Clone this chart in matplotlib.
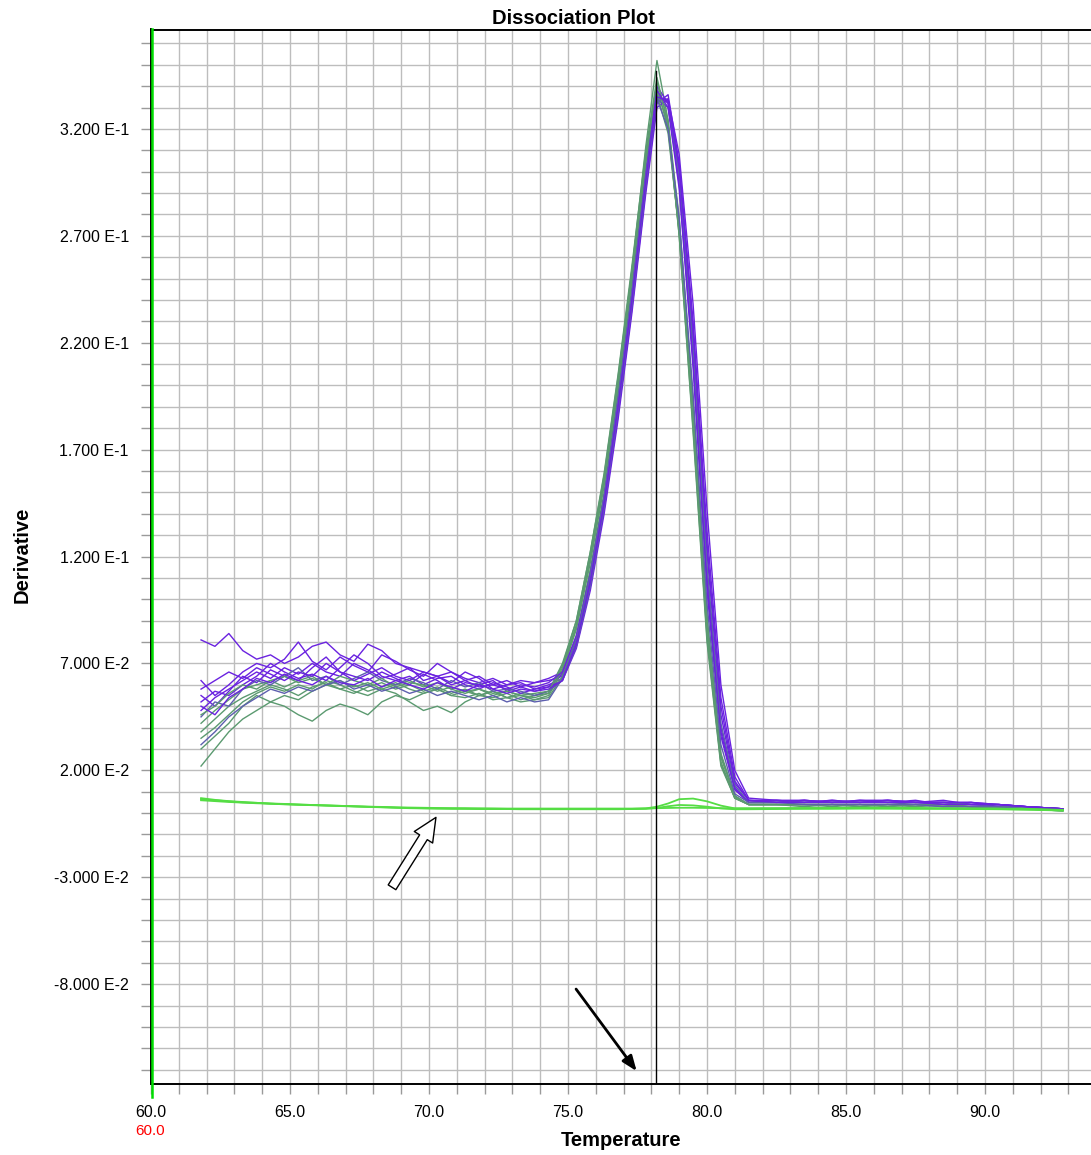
import matplotlib
matplotlib.use("Agg")
import matplotlib.pyplot as plt
from matplotlib.ticker import FixedLocator, MultipleLocator

# ---------------- data (derivative values in units of 1e-3) ----------------
temperature = [61.8, 62.3, 62.8, 63.3, 63.8, 64.3, 64.8, 65.3, 65.8, 66.3, 66.8, 67.3, 67.8,
               68.3, 68.8, 69.3, 69.8, 70.3, 70.8, 71.3, 71.8, 72.3, 72.8, 73.3, 73.8, 74.3,
               74.8, 75.3, 75.8, 76.3, 76.8, 77.3, 77.8, 78.2, 78.6, 79.0, 79.5, 80.0, 80.5,
               81.0, 81.5, 82.5, 83.5, 84.5, 85.5, 86.5, 87.5, 88.5, 89.5, 90.5, 91.5, 92.8]

purple_1 = [81, 78, 84, 76, 72, 74, 70, 73, 78, 80, 74, 71, 79, 76, 70, 68, 66, 64, 66, 63, 61, 63, 60, 62, 61, 63,
            66, 82, 110, 146, 190, 240, 296, 336, 332, 296, 215, 112, 40, 12, 5,
            5, 6, 5, 5, 6, 5, 5, 4, 4, 3, 2]
purple_2 = [62, 55, 60, 66, 70, 68, 72, 80, 71, 67, 73, 69, 66, 74, 71, 67, 64, 70, 66, 62, 64, 60, 62, 59, 61, 62,
            64, 80, 108, 144, 188, 238, 294, 334, 334, 300, 222, 122, 46, 14, 6,
            6, 5, 6, 5, 5, 6, 4, 5, 3, 3, 2]
purple_3 = [48, 54, 58, 62, 66, 63, 68, 65, 70, 66, 64, 70, 67, 63, 65, 68, 62, 64, 61, 66, 63, 58, 60, 61, 58, 60,
            63, 78, 106, 142, 186, 236, 292, 332, 336, 304, 230, 132, 54, 17, 6,
            5, 6, 5, 6, 5, 5, 6, 4, 4, 3, 2]
purple_4 = [55, 50, 57, 64, 61, 67, 64, 62, 68, 73, 66, 64, 62, 66, 63, 60, 65, 62, 58, 61, 60, 62, 57, 59, 57, 59,
            65, 81, 110, 147, 192, 242, 298, 340, 332, 294, 212, 108, 38, 11, 5,
            5, 5, 6, 5, 5, 5, 5, 4, 4, 3, 2]
purple_5 = [52, 57, 55, 60, 64, 70, 66, 63, 65, 62, 68, 74, 70, 64, 62, 64, 60, 63, 64, 60, 58, 61, 59, 56, 58, 59,
            62, 77, 104, 140, 184, 234, 290, 330, 334, 308, 238, 142, 60, 20, 7,
            6, 5, 5, 6, 6, 5, 5, 5, 4, 3, 2]
purple_6 = [45, 52, 50, 58, 62, 60, 64, 68, 62, 64, 60, 63, 66, 62, 60, 63, 61, 58, 62, 59, 61, 57, 58, 57, 55, 57,
            62, 78, 106, 143, 188, 238, 294, 334, 330, 298, 218, 116, 42, 13, 5,
            5, 5, 5, 5, 5, 4, 5, 4, 3, 3, 2]
purple_7 = [58, 62, 66, 63, 68, 65, 62, 66, 64, 70, 66, 62, 65, 68, 64, 62, 66, 64, 60, 62, 59, 60, 58, 60, 59, 61,
            66, 83, 112, 148, 193, 243, 299, 338, 330, 292, 208, 104, 36, 11, 5,
            6, 6, 5, 5, 6, 5, 5, 5, 4, 3, 2]
purple_8 = [50, 46, 54, 58, 63, 61, 65, 62, 60, 64, 61, 60, 63, 59, 62, 60, 58, 61, 59, 57, 60, 58, 56, 58, 57, 58,
            62, 79, 108, 145, 190, 240, 296, 335, 333, 302, 226, 126, 50, 15, 6,
            5, 5, 5, 5, 5, 5, 4, 4, 4, 3, 2]

green_1 = [22, 30, 38, 44, 48, 52, 55, 53, 57, 60, 58, 56, 59, 61, 58, 60, 57, 59, 56, 58, 55, 57, 54, 56, 55, 57,
           70, 90, 122, 158, 204, 254, 308, 340, 320, 272, 184, 84, 24, 7, 4,
           4, 4, 4, 4, 3, 4, 4, 3, 3, 2, 2]
green_2 = [30, 36, 42, 50, 55, 52, 50, 46, 43, 48, 51, 49, 46, 52, 55, 53, 56, 58, 55, 57, 55, 54, 56, 53, 55, 56,
           68, 88, 120, 156, 202, 254, 312, 352, 324, 270, 178, 80, 22, 7, 4,
           4, 4, 3, 4, 4, 3, 4, 3, 3, 2, 1]
green_3 = [35, 40, 46, 52, 56, 59, 57, 60, 58, 62, 60, 57, 55, 58, 56, 52, 48, 50, 47, 52, 55, 57, 54, 55, 53, 55,
           66, 86, 117, 153, 198, 249, 304, 338, 322, 276, 190, 90, 27, 8, 4,
           4, 4, 4, 3, 4, 4, 3, 3, 3, 2, 2]
green_4 = [42, 48, 53, 58, 60, 62, 59, 62, 64, 60, 62, 59, 61, 58, 60, 62, 59, 61, 58, 56, 58, 55, 57, 55, 54, 56,
           67, 87, 119, 155, 201, 252, 306, 342, 324, 278, 192, 92, 28, 8, 4,
           4, 4, 4, 4, 4, 3, 4, 3, 3, 2, 2]
green_5 = [38, 44, 50, 54, 57, 60, 58, 55, 59, 61, 58, 60, 57, 59, 61, 58, 56, 58, 55, 54, 56, 53, 54, 52, 53, 54,
           64, 83, 114, 150, 196, 246, 301, 336, 318, 272, 186, 88, 26, 8, 4,
           4, 3, 4, 4, 3, 4, 3, 3, 2, 2, 1]
green_6 = [46, 50, 56, 60, 58, 62, 64, 61, 63, 60, 64, 62, 60, 63, 59, 61, 60, 57, 59, 57, 58, 56, 57, 55, 56, 57,
           69, 90, 122, 159, 205, 256, 310, 344, 322, 270, 180, 82, 23, 7, 4,
           4, 4, 4, 3, 4, 4, 4, 3, 3, 2, 2]
green_7 = [32, 38, 45, 50, 54, 58, 56, 59, 57, 60, 62, 58, 60, 57, 59, 56, 58, 55, 57, 55, 53, 55, 52, 54, 52, 53,
           63, 81, 111, 148, 194, 244, 298, 334, 320, 278, 196, 98, 32, 9, 5,
           5, 4, 4, 4, 4, 4, 3, 3, 3, 2, 2]

ntc_1 = [6.5, 6.0, 5.5, 5.0, 4.8, 4.5, 4.3, 4.0, 3.8, 3.6, 3.4, 3.2, 3.0, 2.8, 2.6, 2.4, 2.3, 2.2, 2.2, 2.1, 2.1,
         2.0, 2.0, 2.0, 2.0, 2.0,
         2.0, 2.0, 2.0, 2.0, 2.0, 2.0, 2.2, 3.0, 4.5, 6.5, 6.8, 5.5, 3.5, 2.2, 2.2,
         2.3, 2.4, 2.4, 2.5, 2.5, 2.4, 2.3, 2.2, 2.1, 2.0, 1.5]
ntc_2 = [7.0, 6.2, 5.6, 5.2, 4.8, 4.4, 4.1, 3.9, 3.7, 3.5, 3.3, 3.1, 2.9, 2.7, 2.5, 2.3, 2.2, 2.1, 2.0, 2.0, 1.9,
         1.9, 1.9, 1.8, 1.8, 1.8,
         1.8, 1.8, 1.8, 1.8, 1.8, 1.9, 2.0, 2.4, 3.2, 3.8, 3.6, 3.0, 2.2, 1.8, 1.8,
         1.9, 2.0, 2.0, 2.1, 2.1, 2.0, 2.0, 1.9, 1.8, 1.6, 1.2]
ntc_3 = [6.0, 5.6, 5.2, 4.9, 4.6, 4.4, 4.2, 4.0, 3.8, 3.6, 3.4, 3.2, 3.0, 2.9, 2.7, 2.6, 2.5, 2.4, 2.3, 2.3, 2.2,
         2.2, 2.1, 2.1, 2.1, 2.1,
         2.1, 2.1, 2.1, 2.1, 2.1, 2.1, 2.2, 2.3, 2.4, 2.5, 2.5, 2.4, 2.3, 2.2, 2.2,
         2.2, 2.2, 2.3, 2.3, 2.2, 2.2, 2.1, 2.0, 1.9, 1.7, 1.3]

x_tick_values = [60, 65, 70, 75, 80, 85, 90]
x_tick_labels = ["60.0", "65.0", "70.0", "75.0", "80.0", "85.0", "90.0"]
y_tick_values = [0.32, 0.27, 0.22, 0.17, 0.12, 0.07, 0.02, -0.03, -0.08]
y_tick_labels = ["3.200 E-1", "2.700 E-1", "2.200 E-1", "1.700 E-1", "1.200 E-1",
                 "7.000 E-2", "2.000 E-2", "-3.000 E-2", "-8.000 E-2"]
cursor_temperature = 78.17
cursor_top = 0.347
SCALE = 1e-3

# ---------------- figure ----------------
W, H = 1091, 1155
fig = plt.figure(figsize=(W / 100, H / 100), dpi=100)
plt.rcParams['font.family'] = ['Liberation Sans', 'DejaVu Sans']

ax = fig.add_axes([151 / W, 1 - 1084 / H, 1 - 151 / W, (1084 - 29.5) / H])
x_min, x_max = 60.0, 60.0 + (W - 151) / 27.8
y_min, y_max = -0.1267, 0.3665
ax.set_xlim(x_min, x_max)
ax.set_ylim(y_min, y_max)

# grid
ax.xaxis.set_major_locator(FixedLocator(x_tick_values))
ax.xaxis.set_minor_locator(MultipleLocator(1.0))
ax.yaxis.set_major_locator(FixedLocator(y_tick_values))
ax.yaxis.set_minor_locator(MultipleLocator(0.01))
ax.set_xticklabels(x_tick_labels)
ax.set_yticklabels(y_tick_labels)
ax.grid(True, which='both', color='#bdbdbd', lw=1.0)
ax.set_axisbelow(True)
ax.tick_params(which='both', direction='out', length=7, width=1, color='#9a9a9a',
               labelsize=11.5, labelcolor='black')
ax.tick_params(axis='x', which='both', pad=8)
ax.tick_params(axis='y', which='both', pad=9)
ax.spines['right'].set_visible(False)
for s in ['left', 'bottom', 'top']:
    ax.spines[s].set_color('black')
    ax.spines[s].set_linewidth(1.4)

PURPLE = '#6a22e0'
GREEN = '#5b9a70'
SLATE = '#5d5fae'
BRIGHT = '#55dd44'

curves = [(green_1, GREEN), (purple_1, PURPLE), (green_2, GREEN), (purple_2, PURPLE),
          (purple_3, PURPLE), (green_3, GREEN), (purple_4, PURPLE), (green_4, GREEN),
          (purple_5, PURPLE), (green_5, GREEN), (purple_6, SLATE), (green_6, GREEN),
          (purple_7, PURPLE), (green_7, SLATE), (purple_8, PURPLE)]
for vals, col in curves:
    ax.plot(temperature, [v * SCALE for v in vals], color=col, lw=1.0)

for vals in (ntc_1, ntc_2, ntc_3):
    ax.plot(temperature, [v * SCALE for v in vals], color=BRIGHT, lw=1.3)

# cursor line
ax.plot([cursor_temperature, cursor_temperature], [y_min, cursor_top], color='black', lw=1.0)

# green marker at left edge
ax.plot([60.04, 60.04], [y_min - 0.006, y_max], color='#00dd00', lw=1.8, clip_on=False, zorder=5)

# arrows
ax.annotate('', xy=(70.25, -0.002), xytext=(68.67, -0.0347),
            arrowprops=dict(arrowstyle='simple,head_length=1.3,head_width=1.2,tail_width=0.5',
                            mutation_scale=13, facecolor='white', edgecolor='black', lw=1.0,
                            shrinkA=0, shrinkB=0))
ax.annotate('', xy=(77.47, -0.1207), xytext=(75.29, -0.0823),
            arrowprops=dict(arrowstyle='-|>,head_length=0.9,head_width=0.35',
                            color='black', lw=2.0, shrinkA=0, shrinkB=0))

# texts
fig.text(573 / W, 1 - 18 / H, 'Dissociation Plot', ha='center', va='center',
         fontsize=14.5, fontweight='bold')
fig.text(621 / W, 1 - 1140 / H, 'Temperature', ha='center', va='center',
         fontsize=14.5, fontweight='bold')
fig.text(22 / W, 1 - 555 / H, 'Derivative', ha='center', va='center', rotation=90,
         fontsize=14.5, fontweight='bold')
fig.text(150 / W, 1 - 1131 / H, '60.0', ha='center', va='center', color='red', fontsize=11)

fig.savefig('out.png', dpi=100)
